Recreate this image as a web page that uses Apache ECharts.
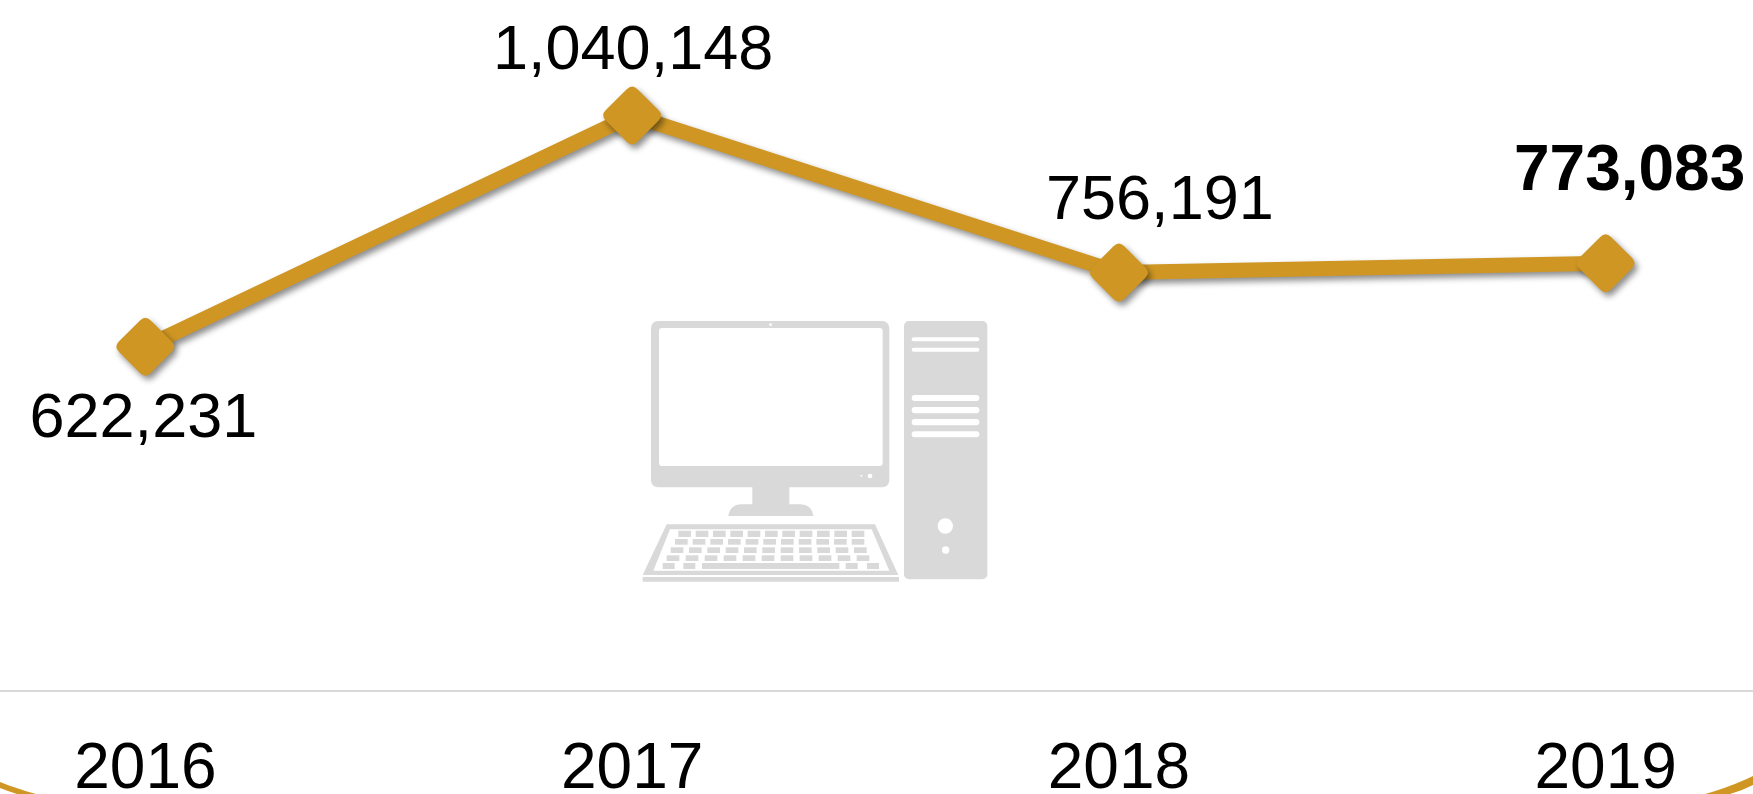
<!DOCTYPE html>
<html><head><meta charset="utf-8">
<style>html,body{margin:0;padding:0;background:#fff}#c{width:1753px;height:794px}</style>
<script src="https://cdn.jsdelivr.net/npm/echarts@6/dist/echarts.min.js"></script>
</head><body><div id="c"></div>
<script>
const years = ['2016', '2017', '2018', '2019'];
const visitors = [622231, 1040148, 756191, 773083];
const labelOffsets = [[-2, 73], [1, -64], [41, -71], [24, -91]];
const boldLabel = [false, false, false, true];

const GOLD = '#cf9623', GREY = '#d9d9d9', FONT = '"Liberation Sans", Arial, sans-serif';
const diamond = 'path://M41 6 Q50 -3 59 6 L94 41 Q103 50 94 59 L59 94 Q50 103 41 94 L6 59 Q-3 50 6 41 Z';

// icon helper: coordinates measured on a 3x crop whose origin is (620,300)
const X = v => 620 + v / 3, Y = v => 300 + v / 3;
const els = [];
const rect = (x0, y0, x1, y1, fill, r) => els.push({type: 'rect', silent: true, shape: {x: X(x0), y: Y(y0), width: (x1 - x0) / 3, height: (y1 - y0) / 3, r: r || 0}, style: {fill}});
const dot = (x, y, r, fill) => els.push({type: 'circle', silent: true, shape: {cx: X(x), cy: Y(y), r: r / 3}, style: {fill}});
const poly = (pts, fill) => els.push({type: 'polygon', silent: true, shape: {points: pts.map(p => [X(p[0]), Y(p[1])])}, style: {fill}});
const rawPoly = (pts, fill) => els.push({type: 'polygon', silent: true, shape: {points: pts}, style: {fill}});
const quad = (a, c, b) => [0, .125, .25, .375, .5, .625, .75, .875, 1].map(t => [
  (1 - t) * (1 - t) * a[0] + 2 * t * (1 - t) * c[0] + t * t * b[0],
  (1 - t) * (1 - t) * a[1] + 2 * t * (1 - t) * c[1] + t * t * b[1]]);

rect(93, 63, 808, 562, GREY, 7);
rect(117, 84, 788, 498, '#fff', 3);
dot(452, 74, 4, '#fff'); dot(750, 528, 7, '#fff'); dot(724, 527, 3, '#fff');
rect(397, 560, 508, 616, GREY);
poly([...quad([325, 648], [330, 613], [365, 613]), ...quad([540, 613], [575, 613], [580, 648])], GREY);
poly([[140, 673], [765, 673], [835, 825], [68, 825]], GREY);
poly([[150, 688], [755, 688], [808, 812], [100, 812]], '#fff');
rect(68, 831, 837, 845, GREY);
const kbRows = [[692, 711, 175, 52, 11], [717, 734, 165, 53, 11], [742, 759, 152, 55, 11], [766, 783, 140, 57, 11]];
kbRows.forEach(([a, b, s, st, n]) => { for (let i = 0; i < n; i++) rect(s + i * st, a, s + i * st + 38, b, GREY); });
[[128, 164], [190, 226], [246, 658], [677, 713], [741, 777]].forEach(k => rect(k[0], 789, k[1], 807, GREY));
rect(852, 63, 1102, 838, GREY, 5);
[[112, 124], [143, 155], [285, 303], [321, 340], [357, 376], [394, 412]].forEach(s => rect(875, s[0], 1078, s[1], '#fff', 3));
dot(976, 678, 23, '#fff'); dot(977, 750, 11, '#fff');

// corner arcs
rawPoly([...quad([0, 782], [18, 789], [36, 794]), [17, 794], [8, 791], [0, 788]], GOLD);
rawPoly([...quad([1753, 776], [1730, 787], [1705, 794]), [1730, 794], [1742, 790], [1753, 785]], GOLD);

const chart = echarts.init(document.getElementById('c'), null, {renderer: 'canvas'});
chart.setOption({
  animation: false,
  grid: {left: -98, right: -96, top: 27, bottom: 103, containLabel: false, outerBoundsMode: 'none'},
  graphic: {elements: els},
  xAxis: {
    type: 'category', data: years,
    axisTick: {show: false},
    axisLine: {show: true, lineStyle: {color: GREY, width: 2}},
    axisLabel: {color: '#000', fontSize: 64, fontFamily: FONT, margin: 47, interval: 0}
  },
  yAxis: {type: 'value', min: 0, max: 1200000, show: false, splitLine: {show: false}},
  series: [{
    type: 'line', z: 5,
    data: visitors.map((v, i) => ({
      value: v,
      label: {
        show: true, position: 'inside', offset: labelOffsets[i],
        formatter: p => p.value.toLocaleString('en-US'),
        color: '#000', fontSize: boldLabel[i] ? 64 : 63, fontFamily: FONT,
        fontWeight: boldLabel[i] ? 'bold' : 'normal',
        textShadowBlur: 0
      }
    })),
    symbol: diamond, symbolSize: 58, showAllSymbol: true,
    lineStyle: {color: GOLD, width: 15, shadowColor: 'rgba(0,0,0,0.45)', shadowBlur: 6, shadowOffsetX: 3, shadowOffsetY: 4},
    itemStyle: {color: GOLD, shadowColor: 'rgba(0,0,0,0.45)', shadowBlur: 6, shadowOffsetX: 3, shadowOffsetY: 4}
  }]
});
</script></body></html>
